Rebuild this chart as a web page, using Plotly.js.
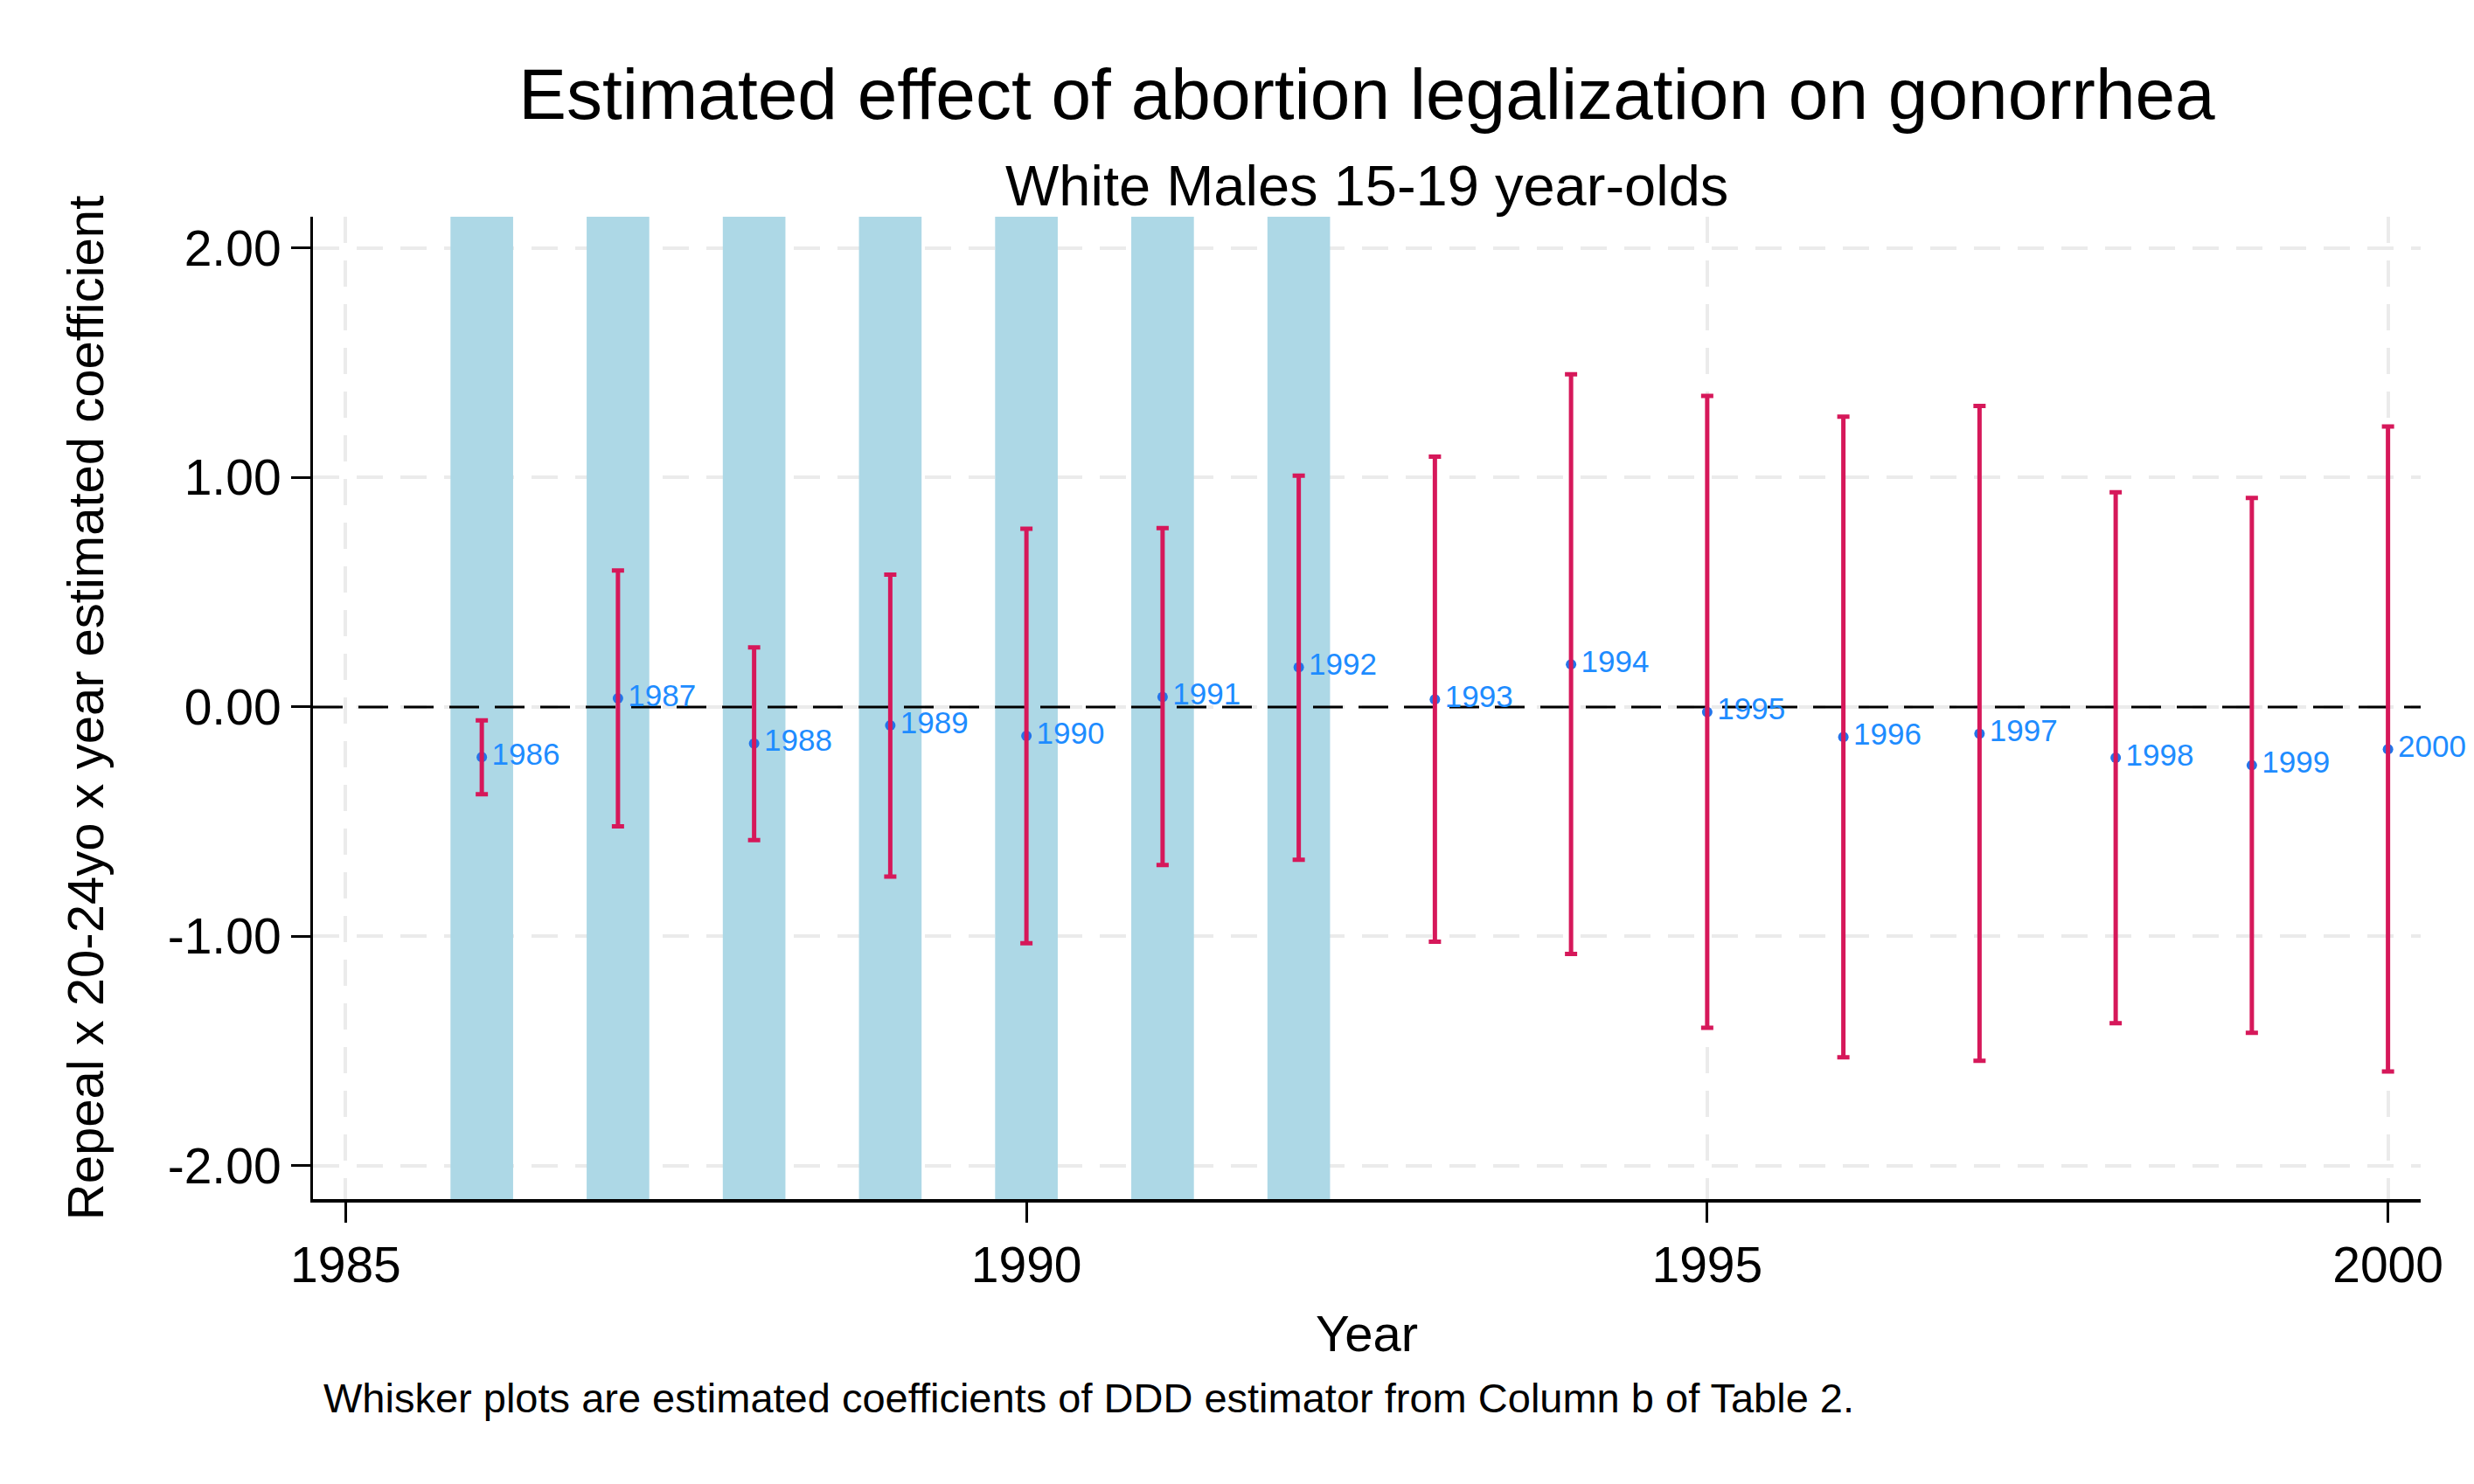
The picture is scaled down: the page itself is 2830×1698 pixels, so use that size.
<!DOCTYPE html>
<html>
<head>
<meta charset="utf-8">
<script src="https://cdn.plot.ly/plotly-3.0.1.min.js"></script>
<style>html,body{margin:0;padding:0;background:#fff;}#chart{width:2830px;height:1698px;}</style>
</head>
<body>
<div id="chart"></div>
<script>
// ---- data ----
const years = [1986, 1987, 1988, 1989, 1990, 1991, 1992, 1993, 1994, 1995, 1996, 1997, 1998, 1999, 2000];
const coef  = [-0.218, 0.038, -0.159, -0.080, -0.126, 0.044, 0.173, 0.033, 0.186, -0.022, -0.131, -0.116, -0.221, -0.254, -0.184];
const upper = [-0.058, 0.595, 0.260, 0.577, 0.777, 0.780, 1.008, 1.091, 1.450, 1.356, 1.266, 1.312, 0.936, 0.911, 1.223];
const lower = [-0.380, -0.520, -0.580, -0.739, -1.030, -0.689, -0.666, -1.023, -1.076, -1.398, -1.527, -1.542, -1.378, -1.420, -1.589];
const shadeYears = [1986, 1987, 1988, 1989, 1990, 1991, 1992];
const xTickVals = [1985, 1990, 1995, 2000];
const yTickVals = [-2, -1, 0, 1, 2];
const yTickLabels = ["-2.00", "-1.00", "0.00", "1.00", "2.00"];
const xRange = [1984.76, 2000.24];
const yRange = [-2.145, 2.137];

const FONT = "Liberation Sans, Arial, Helvetica, sans-serif";

const traces = [
  {
    type: "bar",
    x: shadeYears,
    y: shadeYears.map(() => yRange[1] - yRange[0]),
    base: yRange[0],
    width: 0.46,
    marker: { color: "#ADD8E6", line: { width: 0 } },
    hoverinfo: "skip",
    showlegend: false
  },
  {
    type: "scatter",
    mode: "lines",
    x: xRange,
    y: [0, 0],
    line: { color: "#000000", width: 3, dash: "34px,18px" },
    hoverinfo: "skip",
    showlegend: false
  },
  {
    type: "scatter",
    mode: "markers+text",
    x: years,
    y: coef,
    text: years.map(y => "\u200A" + y),
    textposition: "middle right",
    textfont: { family: FONT, size: 35, color: "#1E8CFF" },
    marker: { size: 12, color: "#2274EA" },
    cliponaxis: false,
    showlegend: false
  },
  {
    type: "scatter",
    mode: "markers",
    x: years,
    y: coef,
    marker: { size: 1, color: "rgba(0,0,0,0)" },
    error_y: {
      type: "data",
      symmetric: false,
      array: upper.map((u, i) => u - coef[i]),
      arrayminus: lower.map((l, i) => coef[i] - l),
      color: "#D6185A",
      thickness: 5,
      width: 7
    },
    cliponaxis: false,
    showlegend: false
  }
];

const layout = {
  width: 2830,
  height: 1698,
  margin: { l: 358, r: 61, t: 248, b: 326 },
  paper_bgcolor: "#ffffff",
  plot_bgcolor: "#ffffff",
  font: { family: FONT, color: "#000000" },
  showlegend: false,
  barmode: "overlay",
  title: {
    text: "Estimated effect of abortion legalization on gonorrhea",
    font: { family: FONT, size: 82, color: "#000000" },
    xref: "paper", x: 0.5, xanchor: "center",
    yref: "container", y: 0.937, yanchor: "middle"
  },
  annotations: [
    {
      text: "White Males 15-19 year-olds",
      xref: "paper", yref: "paper", x: 0.5, y: 1.032,
      xanchor: "center", yanchor: "middle", showarrow: false,
      font: { family: FONT, size: 65, color: "#000000" }
    },
    {
      text: "Whisker plots are estimated coefficients of DDD estimator from Column b of Table 2.",
      xref: "paper", yref: "paper", x: 0.004, y: -0.202,
      xanchor: "left", yanchor: "middle", showarrow: false,
      font: { family: FONT, size: 47, color: "#000000" }
    }
  ],
  xaxis: {
    range: xRange,
    tickvals: xTickVals,
    ticktext: xTickVals.map(String),
    ticks: "outside", ticklen: 23, tickwidth: 3, tickcolor: "#000",
    tickfont: { family: FONT, size: 57, color: "#000" },
    showline: true, linecolor: "#000", linewidth: 4,
    showgrid: true, gridcolor: "#EBEBEB", gridwidth: 4, griddash: "30px,20px",
    zeroline: false,
    title: { text: "Year", font: { family: FONT, size: 58, color: "#000" }, standoff: 28 }
  },
  yaxis: {
    range: yRange,
    tickvals: yTickVals,
    ticktext: yTickLabels,
    ticks: "outside", ticklen: 22, tickwidth: 3, tickcolor: "#000",
    tickfont: { family: FONT, size: 57, color: "#000" },
    showline: true, linecolor: "#000", linewidth: 3,
    showgrid: true, gridcolor: "#EBEBEB", gridwidth: 4, griddash: "30px,20px",
    zeroline: false,
    title: { text: "Repeal x 20-24yo x year estimated coefficient", font: { family: FONT, size: 58, color: "#000" }, standoff: 55 }
  }
};

Plotly.newPlot("chart", traces, layout, { displayModeBar: false, staticPlot: true });
</script>
</body>
</html>
